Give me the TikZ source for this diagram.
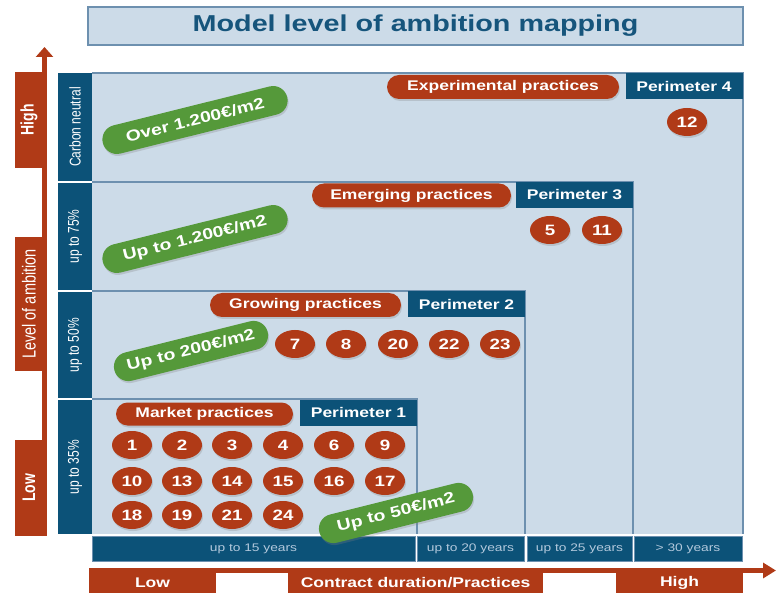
\documentclass[tikz,border=0pt]{standalone}
\usepackage{fontspec}
\setmainfont{Liberation Sans}[FakeStretch=1.25]
\newfontfamily\vfont{Liberation Sans}
\usetikzlibrary{shapes.misc,shapes.geometric,shadows,arrows.meta}
\definecolor{rust}{HTML}{B03A17}
\definecolor{navy}{HTML}{0C5278}
\definecolor{pale}{HTML}{CCDBE8}
\definecolor{edge}{HTML}{6D90AF}
\definecolor{leaf}{HTML}{55993A}
\definecolor{ttl}{HTML}{16557C}
\definecolor{dimtxt}{HTML}{B3C9DD}
\tikzset{
  shad/.style={drop shadow={opacity=0.28, shadow xshift=1pt, shadow yshift=-2pt}},
  num/.style={ellipse, fill=rust, text=white, minimum width=40pt, minimum height=28pt,
    inner sep=0pt, font=\fontsize{15}{15}\selectfont\bfseries, shad},
  prac/.style={rounded rectangle, fill=rust, text=white, inner sep=0pt, minimum height=24pt,
    font=\fontsize{14}{14}\selectfont\bfseries, shad},
  perim/.style={rectangle, fill=navy, text=white, inner sep=0pt, minimum width=117pt,
    minimum height=26pt, font=\fontsize{14}{14}\selectfont\bfseries},
  price/.style={rounded rectangle, fill=leaf, text=white, minimum height=29pt, inner sep=0pt,
    rotate=14, font=\fontsize{15.5}{15.5}\selectfont\bfseries, shad},
  rowlab/.style={rectangle, fill=navy, text=white, minimum height=34pt, inner sep=0pt,
    rotate=90, font=\vfont\fontsize{12}{12}\selectfont},
  dur/.style={rectangle, fill=navy, draw=edge, line width=0.6pt, text=dimtxt,
    font=\fontsize{11}{11}\selectfont, minimum height=25pt, inner sep=0pt},
  vbox/.style={rectangle, fill=rust, text=white, minimum height=28pt, inner sep=0pt, rotate=90},
  hbox/.style={rectangle, fill=rust, text=white, minimum height=29pt, inner sep=0pt,
    font=\fontsize{14}{14}\selectfont\bfseries},
  axis/.style={rust, line width=4.5pt},
  perline/.style={edge, line width=1.6pt},
}
\begin{document}
\begin{tikzpicture}[x=1pt,y=-1pt]
\useasboundingbox (0,0) rectangle (776,593);

% title
\node[rectangle, fill=pale, draw=edge, line width=1.2pt, minimum width=655pt, minimum height=38pt,
  text=ttl, font=\fontsize{23}{23}\selectfont\bfseries] (title) at (415.5,26) {Model level of ambition mapping};

% main field
\fill[pale] (92,73) rectangle (743,534);
\draw[perline] (92,73) -- (743,73) -- (743,534);
\draw[perline] (92,182) -- (633,182) -- (633,534);
\draw[perline] (92,291) -- (525,291) -- (525,534);
\draw[perline] (92,399) -- (417,399) -- (417,534);

% row labels
\node[rowlab, minimum width=108pt] (r4) at (75,127) {\scalebox{1}[1.3]{Carbon neutral}};
\node[rowlab, minimum width=107pt] (r3) at (75,236.5) {\scalebox{1}[1.3]{up to 75\%}};
\node[rowlab, minimum width=106pt] (r2) at (75,345) {\scalebox{1}[1.3]{up to 50\%}};
\node[rowlab, minimum width=134pt] (r1) at (75,467) {\scalebox{1}[1.3]{up to 35\%}};

% perimeter tabs
\node[perim] (p4) at (684,86) {Perimeter 4};
\node[perim] (p3) at (574.5,195) {Perimeter 3};
\node[perim] (p2) at (466.5,304.5) {Perimeter 2};
\node[perim] (p1) at (358.5,412.5) {Perimeter 1};

% practice pills
\node[prac, minimum width=232pt] (exp) at (503,87) {Experimental practices};
\node[prac, minimum width=199pt] (emg) at (411.5,195.5) {Emerging practices};
\node[prac, minimum width=191pt] (grw) at (305.5,305) {Growing practices};
\node[prac, minimum width=177pt, minimum height=23pt] (mkt) at (204.5,414) {Market practices};

% numbers
\node[num] (n12) at (687,122) {12};
\node[num] (n5) at (550,230) {5};
\node[num] (n11) at (602,230) {11};
\node[num] (n7) at (295,344) {7};
\node[num] (n8) at (346,344) {8};
\node[num] (n20) at (398,344) {20};
\node[num] (n22) at (449,344) {22};
\node[num] (n23) at (500,344) {23};
\node[num] (n1) at (132,445) {1};
\node[num] (n2) at (182,445) {2};
\node[num] (n3) at (232,445) {3};
\node[num] (n4) at (283,445) {4};
\node[num] (n6) at (334,445) {6};
\node[num] (n9) at (385,445) {9};
\node[num] (n10) at (132,481) {10};
\node[num] (n13) at (182,481) {13};
\node[num] (n14) at (232,481) {14};
\node[num] (n15) at (283,481) {15};
\node[num] (n16) at (334,481) {16};
\node[num] (n17) at (385,481) {17};
\node[num] (n18) at (132,515) {18};
\node[num] (n19) at (182,515) {19};
\node[num] (n21) at (232,515) {21};
\node[num] (n24) at (283,515) {24};

% duration row
\node[dur, minimum width=323pt] (d1) at (253.5,548.5) {up to 15 years};
\node[dur, minimum width=107pt] (d2) at (470.5,548.5) {up to 20 years};
\node[dur, minimum width=105pt] (d3) at (579.5,548.5) {up to 25 years};
\node[dur, minimum width=108pt] (d4) at (688,548.5) {> 30 years};

% price pills
\node[price, minimum width=190pt] (c4) at (195,120) {Over 1.200€/m2};
\node[price, minimum width=190pt] (c3) at (195,239) {Up to 1.200€/m2};
\node[price, minimum width=158pt] (c2) at (191,351) {Up to 200€/m2};
\node[price, minimum width=158pt] (c1) at (396,513) {Up to 50€/m2};

% vertical axis
\node[vbox, minimum width=96pt, font=\vfont\fontsize{14}{14}\selectfont\bfseries] (high) at (29,120) {\scalebox{1}[1.3]{High}};
\node[vbox, minimum width=134pt, font=\vfont\fontsize{14.5}{14.5}\selectfont] (lvl) at (29,304) {\scalebox{1}[1.3]{Level of ambition}};
\node[vbox, minimum width=96pt, font=\vfont\fontsize{14}{14}\selectfont\bfseries] (low) at (29,488) {\scalebox{1}[1.3]{Low}};
\coordinate (vbot) at (44.5,536);
\coordinate (vtop) at (44.5,47);
\draw[axis, -{Triangle[length=10pt,width=17pt]}] (vbot) -- (vtop);

% horizontal axis
\node[hbox, minimum width=127pt] (hlow) at (152.5,582.5) {Low};
\node[hbox, minimum width=255pt] (hmid) at (415.5,582.5) {Contract duration/Practices};
\node[hbox, minimum width=127pt] (hhigh) at (679.5,582.5) {High};
\coordinate (hleft) at (89,570.5);
\coordinate (hright) at (776,570.5);
\draw[axis, -{Triangle[length=13pt,width=15pt]}] (hleft) -- (hright);
\end{tikzpicture}
\end{document}
